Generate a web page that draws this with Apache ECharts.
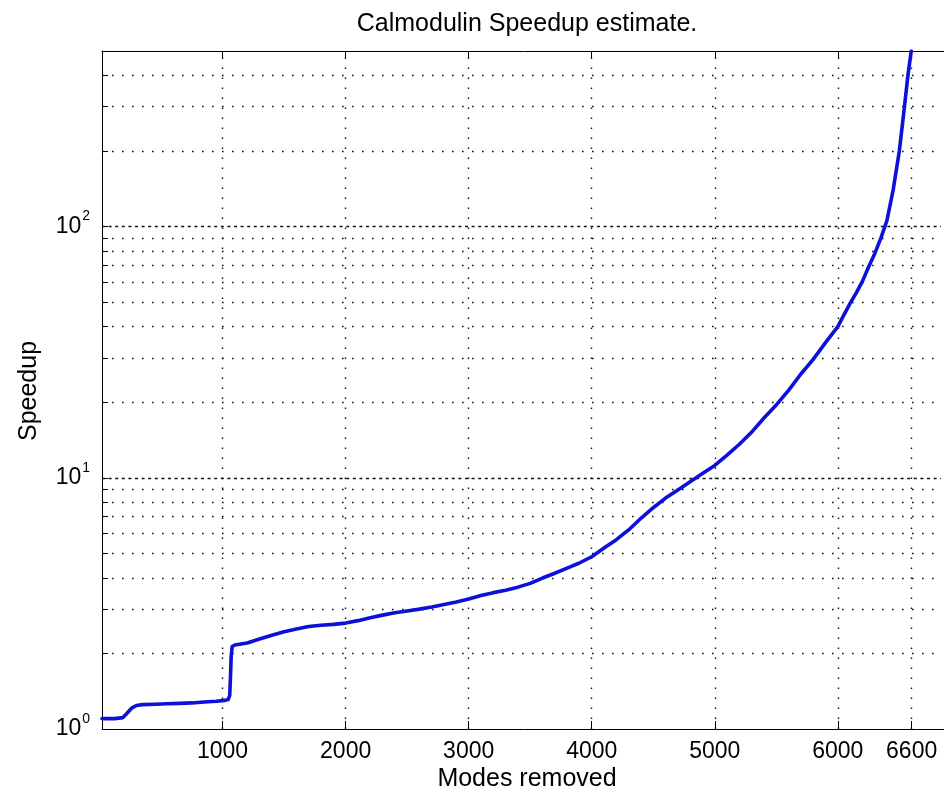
<!DOCTYPE html>
<html>
<head>
<meta charset="utf-8">
<title>Calmodulin Speedup estimate.</title>
<script src="https://cdn.jsdelivr.net/npm/echarts@6/dist/echarts.min.js"></script>
<style>
  html, body { margin: 0; padding: 0; background: #fff; }
  #chart { width: 944px; height: 797px; }
</style>
</head>
<body>
<div id="chart"></div>
<script>
// Number of modes removed and the resulting speedup estimate
const modes = [
  20, 60, 120, 190, 220, 260, 300, 350, 450, 550, 650, 750, 850, 950, 1020, 1045,
  1058, 1064, 1070, 1078, 1100, 1200, 1300, 1400, 1500, 1600, 1700, 1800, 1900,
  2000, 2100, 2200, 2300, 2400, 2500, 2600, 2700, 2800, 2900, 3000, 3100, 3200,
  3300, 3400, 3500, 3600, 3700, 3800, 3900, 4000, 4100, 4200, 4300, 4400, 4500,
  4600, 4700, 4800, 4900, 5000, 5100, 5200, 5300, 5400, 5500, 5600, 5700, 5800,
  5900, 6000, 6050, 6100, 6150, 6200, 6250, 6300, 6350, 6400, 6450, 6500, 6540,
  6570, 6597
];
const speedup = [
  1.10, 1.10, 1.10, 1.11, 1.15, 1.21, 1.24, 1.25, 1.255, 1.26, 1.265, 1.27, 1.28, 1.29, 1.30, 1.31,
  1.36, 1.6, 1.95, 2.13, 2.16, 2.20, 2.28, 2.36, 2.44, 2.50, 2.56, 2.59, 2.61,
  2.64, 2.70, 2.77, 2.84, 2.90, 2.95, 3.00, 3.06, 3.13, 3.20, 3.29, 3.40, 3.49,
  3.57, 3.67, 3.80, 3.99, 4.17, 4.37, 4.58, 4.85, 5.25, 5.67, 6.2, 6.9, 7.6,
  8.3, 8.95, 9.65, 10.4, 11.2, 12.3, 13.6, 15.2, 17.3, 19.5, 22.3, 25.9, 29.6,
  34.5, 40.0, 44.5, 49.5, 54.5, 60.5, 69, 78, 90, 106, 140, 200, 295,
  400, 500
];

// Tick positions
const xTicks = [1000, 2000, 3000, 4000, 5000, 6000, 6600];
const yMajor = [1, 10, 100];
const yMinor = [2, 3, 4, 5, 6, 7, 8, 9, 20, 30, 40, 50, 60, 70, 80, 90, 200, 300, 400, 500];

const FONT = "'Liberation Sans', Arial, Helvetica, sans-serif";
const X_MIN = 20, X_MAX = 6920, Y_MIN = 1, Y_MAX = 500;

const curve = modes.map((m, i) => [m, speedup[i]]);

const dotted = { color: '#111', width: 1.4, type: [1.6, 8.4] };
const dense = { color: '#111', width: 1.4, type: [3, 3.6] };

const gridLines = []
  .concat(xTicks.map(v => ({ xAxis: v, lineStyle: dotted })))
  .concat(yMinor.filter(v => v < Y_MAX).map(v => ({ yAxis: v, lineStyle: dotted })))
  .concat([10, 100].map(v => ({ yAxis: v, lineStyle: dense })));

const axisLine = { show: true, lineStyle: { color: '#000', width: 1 } };

const chart = echarts.init(document.getElementById('chart'), null, { renderer: 'canvas' });

chart.setOption({
  animation: false,
  backgroundColor: '#fff',
  grid: { left: 102, top: 51, width: 849, height: 678, outerBoundsMode: 'none', containLabel: false },
  xAxis: [
    {
      type: 'value', min: X_MIN, max: X_MAX, position: 'bottom',
      axisLine: axisLine,
      axisTick: { show: true, inside: true, length: 8, customValues: xTicks, lineStyle: { color: '#000' } },
      axisLabel: {
        show: true, customValues: xTicks, margin: 11, color: '#000', fontSize: 23, fontFamily: FONT,
        formatter: v => String(v)
      },
      splitLine: { show: false }
    },
    {
      type: 'value', min: X_MIN, max: X_MAX, position: 'top',
      axisLine: axisLine,
      axisTick: { show: true, inside: true, length: 8, customValues: xTicks, lineStyle: { color: '#000' } },
      axisLabel: { show: false },
      splitLine: { show: false }
    }
  ],
  yAxis: [
    {
      type: 'log', logBase: 10, min: Y_MIN, max: Y_MAX, position: 'left',
      axisLine: axisLine,
      axisTick: { show: true, inside: true, length: 6, customValues: yMajor.concat(yMinor), lineStyle: { color: '#000' } },
      axisLabel: {
        show: true, customValues: yMajor, margin: 12, color: '#000',
        formatter: v => '{b|10}{s|' + Math.round(Math.log10(v)) + '}',
        rich: {
          b: { fontSize: 23, fontFamily: FONT, color: '#000' },
          s: { fontSize: 14, fontFamily: FONT, color: '#000', padding: [0, 0, 20, 1] }
        }
      },
      splitLine: { show: false },
      minorTick: { show: false }
    }
  ],
  series: [
    {
      name: 'Speedup',
      type: 'line',
      data: curve,
      z: 5,
      showSymbol: false,
      symbol: 'none',
      smooth: false,
      clip: true,
      lineStyle: { color: '#0c10d8', width: 3.6, cap: 'round', join: 'round' },
      markLine: {
        z: 1,
        silent: true,
        symbol: ['none', 'none'],
        label: { show: false },
        emphasis: { disabled: true },
        animation: false,
        data: gridLines
      }
    }
  ],
  graphic: [
    {
      // plain white edge strip along the right side of the canvas, inside the plot frame
      type: 'rect', z: 100, silent: true,
      shape: { x: 941, y: 53, width: 3, height: 674 },
      style: { fill: '#fff' }
    },
    {
      type: 'text', x: 527, y: 24,
      style: { text: 'Calmodulin Speedup estimate.', font: '25px ' + FONT, fill: '#000', textAlign: 'center', textVerticalAlign: 'middle' }
    },
    {
      type: 'text', x: 527, y: 779,
      style: { text: 'Modes removed', font: '25px ' + FONT, fill: '#000', textAlign: 'center', textVerticalAlign: 'middle' }
    },
    {
      type: 'text', x: 29, y: 391, rotation: Math.PI / 2,
      style: { text: 'Speedup', font: '25px ' + FONT, fill: '#000', textAlign: 'center', textVerticalAlign: 'middle' }
    }
  ]
});
</script>
</body>
</html>
